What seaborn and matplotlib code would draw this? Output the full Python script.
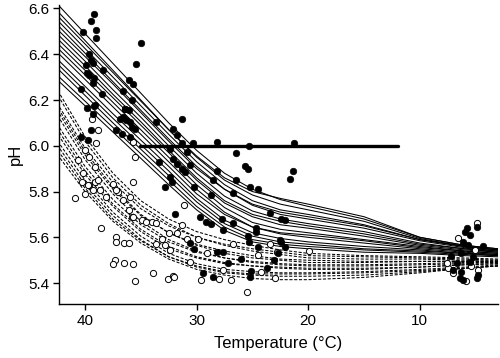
import numpy as np
import pandas as pd
import matplotlib
matplotlib.use('Agg')
import matplotlib.pyplot as plt
import seaborn as sns

sns.set_theme(style='ticks')
plt.rcParams['font.family'] = ['Liberation Sans', 'DejaVu Sans']

curve_temps = [42.3, 40, 37.5, 35, 32.5, 30, 27.5, 25, 22.5, 20, 15, 10, 6, 3]

# Solid fitted curves (one row per curve)
solid_ph = [
    [6.61, 6.49, 6.36, 6.23, 6.10, 5.98, 5.88, 5.81, 5.765, 5.735, 5.68, 5.60, 5.565, 5.55],
    [6.58, 6.46, 6.33, 6.20, 6.07, 5.95, 5.85, 5.785, 5.745, 5.72, 5.67, 5.595, 5.56, 5.545],
    [6.56, 6.445, 6.32, 6.195, 6.07, 5.955, 5.86, 5.80, 5.77, 5.745, 5.69, 5.60, 5.565, 5.55],
    [6.54, 6.425, 6.30, 6.175, 6.05, 5.93, 5.83, 5.76, 5.72, 5.70, 5.655, 5.59, 5.56, 5.545],
    [6.52, 6.405, 6.28, 6.155, 6.03, 5.91, 5.81, 5.74, 5.70, 5.68, 5.64, 5.585, 5.555, 5.54],
    [6.50, 6.39, 6.27, 6.145, 6.02, 5.90, 5.81, 5.745, 5.71, 5.69, 5.65, 5.59, 5.56, 5.545],
    [6.48, 6.37, 6.245, 6.125, 6.00, 5.88, 5.78, 5.715, 5.68, 5.66, 5.625, 5.575, 5.55, 5.54],
    [6.46, 6.35, 6.225, 6.105, 5.98, 5.86, 5.76, 5.70, 5.67, 5.65, 5.615, 5.57, 5.55, 5.535],
    [6.44, 6.33, 6.21, 6.09, 5.97, 5.85, 5.75, 5.69, 5.655, 5.64, 5.605, 5.565, 5.545, 5.535],
    [6.42, 6.31, 6.19, 6.07, 5.95, 5.83, 5.73, 5.665, 5.635, 5.62, 5.59, 5.56, 5.54, 5.53],
    [6.40, 6.29, 6.17, 6.05, 5.93, 5.81, 5.71, 5.645, 5.615, 5.60, 5.575, 5.55, 5.535, 5.525],
    [6.37, 6.26, 6.14, 6.025, 5.91, 5.79, 5.70, 5.645, 5.62, 5.61, 5.585, 5.555, 5.54, 5.53],
    [6.35, 6.24, 6.12, 6.005, 5.89, 5.77, 5.675, 5.62, 5.595, 5.58, 5.56, 5.545, 5.53, 5.525],
    [6.33, 6.22, 6.10, 5.985, 5.87, 5.755, 5.66, 5.605, 5.58, 5.57, 5.55, 5.54, 5.53, 5.52],
    [6.30, 6.195, 6.08, 5.965, 5.85, 5.735, 5.645, 5.59, 5.57, 5.56, 5.545, 5.535, 5.525, 5.52],
    [6.28, 6.175, 6.06, 5.945, 5.83, 5.72, 5.63, 5.58, 5.56, 5.55, 5.535, 5.53, 5.52, 5.515],
]

# Dashed fitted curves
dashed_ph = [
    [6.23, 6.04, 5.88, 5.76, 5.68, 5.625, 5.59, 5.565, 5.545, 5.53, 5.52, 5.515, 5.51, 5.505],
    [6.21, 6.02, 5.86, 5.74, 5.66, 5.60, 5.565, 5.54, 5.525, 5.51, 5.505, 5.505, 5.50, 5.50],
    [6.17, 5.99, 5.84, 5.725, 5.65, 5.60, 5.57, 5.55, 5.535, 5.52, 5.515, 5.51, 5.505, 5.50],
    [6.155, 5.975, 5.82, 5.70, 5.62, 5.565, 5.53, 5.51, 5.50, 5.49, 5.49, 5.495, 5.495, 5.495],
    [6.14, 5.96, 5.81, 5.695, 5.62, 5.57, 5.54, 5.52, 5.505, 5.50, 5.495, 5.495, 5.495, 5.495],
    [6.12, 5.94, 5.79, 5.67, 5.59, 5.54, 5.51, 5.49, 5.48, 5.475, 5.475, 5.48, 5.485, 5.49],
    [6.08, 5.91, 5.765, 5.655, 5.58, 5.535, 5.51, 5.495, 5.485, 5.48, 5.48, 5.485, 5.49, 5.49],
    [6.06, 5.89, 5.745, 5.635, 5.56, 5.515, 5.49, 5.475, 5.465, 5.46, 5.46, 5.47, 5.48, 5.485],
    [6.04, 5.875, 5.735, 5.625, 5.55, 5.51, 5.485, 5.475, 5.47, 5.465, 5.465, 5.47, 5.48, 5.485],
    [6.01, 5.85, 5.71, 5.605, 5.53, 5.485, 5.46, 5.45, 5.445, 5.445, 5.45, 5.46, 5.47, 5.48],
    [5.99, 5.83, 5.695, 5.59, 5.515, 5.47, 5.445, 5.435, 5.43, 5.43, 5.435, 5.45, 5.465, 5.475],
    [5.97, 5.815, 5.68, 5.585, 5.515, 5.475, 5.45, 5.44, 5.44, 5.44, 5.445, 5.455, 5.465, 5.475],
    [5.95, 5.80, 5.67, 5.575, 5.505, 5.46, 5.435, 5.42, 5.415, 5.415, 5.425, 5.445, 5.465, 5.475],
]

# Observations shown as filled dots
filled_temp = [
    39.2, 39.5, 39.0, 40.2, 39.0, 35.0, 35.4, 39.6, 39.5, 39.3, 39.9, 38.4, 39.8, 39.2, 39.6,
    39.3, 36.1, 35.7, 40.4, 36.6, 38.5, 35.8, 39.8, 39.2, 36.4, 39.1, 39.3, 39.5, 40.4, 39.7,
    36.4, 36.1, 36.6, 36.3, 36.0, 36.9, 35.8, 35.5, 37.2, 36.7, 36.0, 33.6, 31.3, 32.1, 31.8,
    31.3, 30.3, 28.2, 25.3, 21.3, 32.4, 30.9, 26.5, 32.1, 31.8, 30.6, 31.3, 33.4, 31.0, 28.2,
    25.7, 25.4, 21.4, 21.6, 32.4, 32.2, 32.8, 30.2, 28.5, 26.5, 25.2, 24.5, 28.7, 26.7, 31.9,
    29.7, 29.2, 28.7, 27.7, 26.7, 27.6, 24.7, 23.4, 22.1, 22.4, 25.4, 25.3, 24.5, 22.1, 22.5,
    22.4, 30.6, 30.2, 27.6, 28.2, 26.0, 27.2, 25.1, 23.7, 23.1, 22.7, 28.5, 29.4, 25.2, 24.7,
    5.8, 6.0, 4.9, 5.5, 6.1, 5.7, 4.3, 6.3, 7.2, 5.2, 7.0, 6.3, 6.4, 6.1, 4.9, 4.8, 5.5, 6.7,
]
filled_ph = [
    6.577, 6.545, 6.507, 6.497, 6.469, 6.449, 6.359, 6.399, 6.376, 6.361, 6.351, 6.329, 6.318, 6.298, 6.308,
    6.274, 6.289, 6.268, 6.248, 6.239, 6.225, 6.199, 6.167, 6.172, 6.162, 6.177, 6.138, 6.068, 6.038, 6.027,
    6.159, 6.155, 6.126, 6.111, 6.104, 6.116, 6.082, 6.075, 6.068, 6.053, 6.038, 6.104, 6.119, 6.075, 6.046,
    6.010, 6.010, 6.017, 5.998, 6.010, 5.988, 5.973, 5.970, 5.944, 5.922, 5.915, 5.900, 5.929, 5.886, 5.889,
    5.911, 5.898, 5.890, 5.857, 5.864, 5.840, 5.820, 5.820, 5.850, 5.850, 5.818, 5.809, 5.784, 5.794, 5.701,
    5.689, 5.668, 5.660, 5.678, 5.663, 5.631, 5.639, 5.707, 5.675, 5.682, 5.605, 5.580, 5.559, 5.559, 5.588,
    5.580, 5.576, 5.547, 5.537, 5.537, 5.504, 5.489, 5.453, 5.464, 5.501, 5.530, 5.428, 5.445, 5.428, 5.624,
    5.639, 5.624, 5.643, 5.610, 5.580, 5.566, 5.562, 5.530, 5.518, 5.515, 5.457, 5.449, 5.421, 5.413, 5.421, 5.435, 5.493, 5.486,
]

# Observations shown as open circles
open_temp = [
    39.4, 38.8, 39.0, 35.7, 35.5, 35.7, 40.9, 40.3, 40.0, 38.6, 37.2, 37.2, 36.5, 36.1, 37.3,
    37.5, 36.5, 35.7, 35.5, 33.9, 32.6, 32.1, 35.8, 34.9, 34.0, 33.1, 32.8, 33.6, 32.4, 32.5,
    31.1, 31.3, 31.8, 30.9, 32.0, 29.6, 28.0, 26.9, 25.5, 23.4, 22.8, 26.7, 24.5, 23.0, 29.1,
    30.6, 27.6, 24.2, 19.9, 29.9, 39.6, 39.1, 38.7, 38.1, 37.5, 37.0, 36.6, 36.0, 36.1, 35.7,
    34.5, 33.6, 40.0, 39.6, 40.6, 39.1, 40.2, 38.8, 39.7, 39.3, 37.2,
    4.9, 6.6, 7.5, 7.0, 5.4, 4.8, 5.9, 7.6, 5.1,
]
open_ph = [
    6.119, 6.068, 6.010, 6.017, 5.951, 5.842, 5.774, 5.842, 5.791, 5.641, 5.600, 5.580, 5.576, 5.576, 5.501,
    5.482, 5.490, 5.482, 5.410, 5.442, 5.420, 5.431, 5.689, 5.675, 5.668, 5.591, 5.566, 5.573, 5.544, 5.617,
    5.740, 5.653, 5.617, 5.591, 5.428, 5.413, 5.416, 5.413, 5.362, 5.573, 5.537, 5.573, 5.525, 5.421, 5.530,
    5.493, 5.457, 5.449, 5.540, 5.591, 5.828, 5.842, 5.806, 5.777, 5.835, 5.799, 5.762, 5.777, 5.719, 5.689,
    5.668, 5.661, 5.980, 5.951, 5.937, 5.908, 5.879, 5.850, 5.828, 5.806, 5.806,
    5.663, 5.595, 5.464, 5.442, 5.474, 5.457, 5.409, 5.486, 5.544,
]

# Reference level drawn as a thick line
ref_temp = [35.1, 12.0]
ref_ph = [6.0, 6.0]

# Long table of all curves
rows = []
for i, vals in enumerate(solid_ph):
    for t, v in zip(curve_temps, vals):
        rows.append({'curve': f's{i}', 'kind': 'solid', 'temp': t, 'ph': v})
for i, vals in enumerate(dashed_ph):
    for t, v in zip(curve_temps, vals):
        rows.append({'curve': f'd{i}', 'kind': 'dashed', 'temp': t, 'ph': v})
curves = pd.DataFrame(rows)

fig = plt.figure(figsize=(5, 3.58), dpi=100)
ax = fig.add_axes([0.118, 0.151, 0.878, 0.835])

sns.lineplot(data=curves, x='temp', y='ph', units='curve', estimator=None,
             style='kind', dashes={'solid': '', 'dashed': (3, 1.6)},
             color='black', lw=0.75, legend=False, ax=ax)

sns.lineplot(x=ref_temp, y=ref_ph, color='black', lw=2.4, ax=ax)

sns.scatterplot(x=open_temp, y=open_ph, marker='o', s=20, facecolor='white',
                edgecolor='black', linewidth=0.7, ax=ax, zorder=3)
sns.scatterplot(x=filled_temp, y=filled_ph, marker='o', s=22, color='black',
                edgecolor='black', linewidth=0.5, ax=ax, zorder=4)

ax.set_xlim(42.33, 3.0)
ax.set_ylim(5.309, 6.615)
ax.set_xticks([40, 30, 20, 10])
ax.set_yticks([5.4, 5.6, 5.8, 6.0, 6.2, 6.4, 6.6])
ax.set_yticklabels(['5.4', '5.6', '5.8', '6.0', '6.2', '6.4', '6.6'])
ax.set_xlabel('Temperature (°C)', fontsize=12, color='black', labelpad=6)
ax.set_ylabel('pH', fontsize=12, color='black', labelpad=4)
ax.tick_params(axis='both', direction='out', length=4, width=1, labelsize=11,
               colors='black', pad=3)
for side in ['left', 'bottom']:
    ax.spines[side].set_color('black')
    ax.spines[side].set_linewidth(1)
sns.despine(ax=ax)

fig.savefig('out.png', dpi=100)
